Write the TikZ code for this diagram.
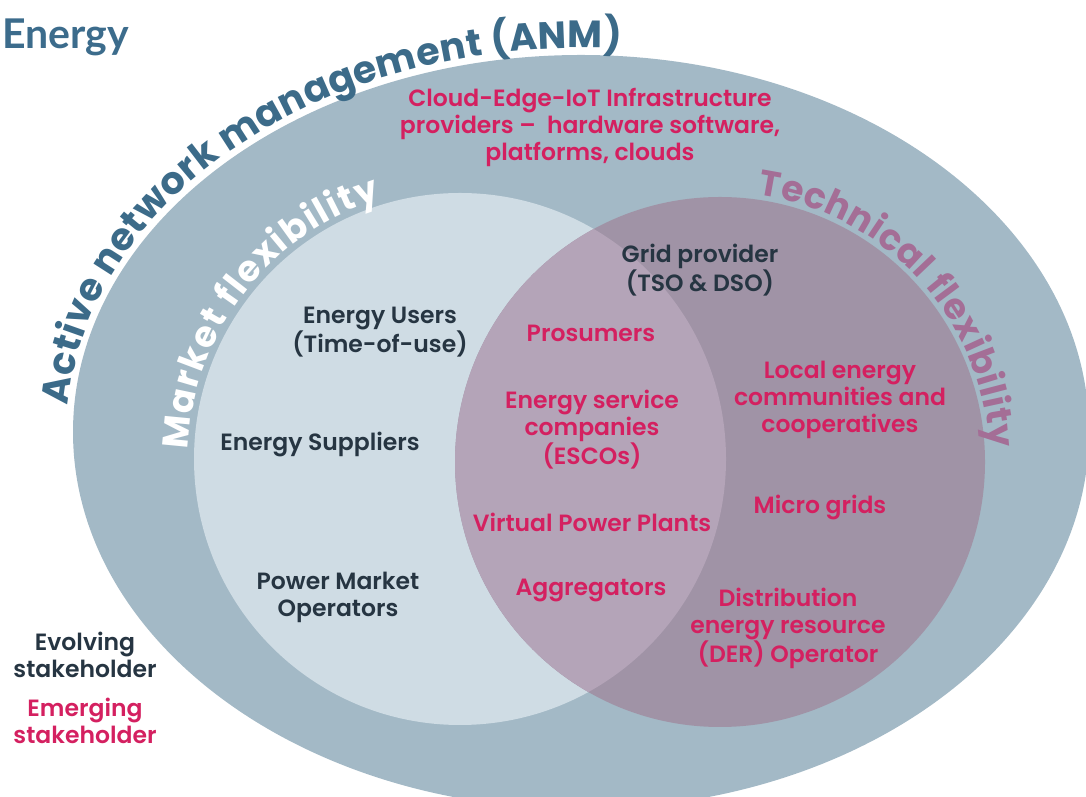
\documentclass[tikz,border=0pt]{standalone}
\usepackage{fontspec}
\setmainfont{Poppins}[UprightFont=* SemiBold, BoldFont=* Bold]
\newfontfamily\headfont{Lato}[UprightFont=* Bold]
\usepackage{tikz}
\usetikzlibrary{positioning}
\usetikzlibrary{decorations.text}

\definecolor{bandblue}{RGB}{163,185,198}
\definecolor{marketblue}{RGB}{207,220,228}
\definecolor{techmauve}{RGB}{160,147,166}
\definecolor{overlapmauve}{RGB}{180,164,184}
\definecolor{headblue}{RGB}{60,108,140}
\definecolor{anmblue}{RGB}{60,107,137}
\definecolor{techpink}{RGB}{164,110,150}
\definecolor{evolvingcol}{RGB}{38,53,66}
\definecolor{emergingcol}{RGB}{212,32,96}

\begin{document}
\begin{tikzpicture}[x=1pt, y=1pt,
    actor/.style={align=center, inner sep=0pt, font=\fontsize{23.5}{27}\selectfont},
    evolving/.style={actor, text=evolvingcol},
    emerging/.style={actor, text=emergingcol},
    arctext/.style={decorate, decoration={text along path, text align=fit to path,
        text color=#1}}]
    \useasboundingbox (0,0) rectangle (1086,797);
    \clip (0,0) rectangle (1086,797);

    \coordinate (anm) at (581,365);
    \coordinate (mkt) at (460,338);
    \coordinate (tec) at (720,335);

    % ANM band, market and technical flexibility
    \fill[bandblue] (anm) ellipse [x radius=508, y radius=377];
    \fill[marketblue] (mkt) circle [radius=266];
    \fill[techmauve] (tec) circle [radius=265];
    \begin{scope}
      \clip (mkt) circle [radius=266];
      \fill[overlapmauve] (tec) circle [radius=265];
    \end{scope}

    % curved titles
    \path[arctext=anmblue, decoration={text={|\fontsize{38}{38}\bfseries|Active network management (ANM)}}]
      (anm) ++(176:514 and 384) arc [start angle=176, end angle=85.5, x radius=514, y radius=384];
    \path[arctext=white, decoration={text={|\fontsize{36}{36}\bfseries|Market flexibility}}]
      (mkt) ++(178:272) arc [start angle=178, end angle=107, radius=272];
    \path[arctext=techpink, decoration={text={|\fontsize{36}{36}\bfseries|Technical flexibility}}]
      (tec) ++(82:270) arc [start angle=82, end angle=3, radius=270];

    \node[anchor=west, inner sep=0pt, text=headblue, font=\headfont\fontsize{41}{41}\selectfont] (title) at (2,760) {Energy};

    \node[emerging] (cloud) at (590,670) {Cloud-Edge-IoT Infrastructure\\providers --\ \ hardware software,\\platforms, clouds};

    \node[evolving] (grid) at (700,527) {Grid provider\\(TSO \& DSO)};
    \node[evolving] (users) at (380,465) {Energy Users\\(Time-of-use)};
    \node[evolving] (suppliers) at (320,352) {Energy Suppliers};
    \node[evolving] (pmo) at (338,200) {Power Market\\Operators};

    \node[emerging] (prosumers) at (591,464) {Prosumers};
    \node[emerging] (escos) at (592,367) {Energy service\\companies\\(ESCOs)};
    \node[emerging] (vpp) at (592,275) {Virtual Power Plants};
    \node[emerging] (aggr) at (591,207) {Aggregators};

    \node[emerging] (lec) at (840,397) {Local energy\\communities and\\cooperatives};
    \node[emerging] (micro) at (820,289) {Micro grids};
    \node[emerging] (der) at (788,169) {Distribution\\energy resource\\(DER) Operator};

    \node[evolving] (evolving) at (85,142) {Evolving\\stakeholder};
    \node[emerging, below=20pt of evolving] (emerging) {Emerging\\stakeholder};
\end{tikzpicture}
\end{document}
